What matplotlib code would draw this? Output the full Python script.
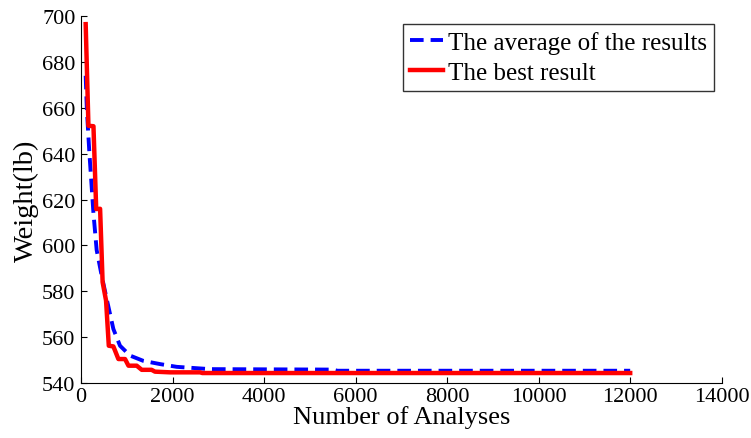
import matplotlib
matplotlib.use("Agg")
import matplotlib.pyplot as plt

plt.rcParams['font.family'] = ['Liberation Serif', 'DejaVu Serif']

avg_x = [100, 125, 180, 270, 340, 450, 560, 705, 850, 1070, 1360, 1725, 2090, 2820, 5500, 5600, 12000]
avg_y = [674, 659.5, 640.6, 614, 598, 586.8, 576.6, 563.6, 556.3, 552, 549.7, 548.3, 547.1, 546.1, 545.9, 545.4, 545.4]

best_x = [100, 160, 270, 330, 415, 470, 545, 605, 705, 815, 960, 1035, 1215, 1325, 1540, 1615, 1945, 2600, 2650, 12000]
best_y = [696.5, 652.2, 652, 615.9, 616, 584, 576, 556.3, 556, 550.5, 550.5, 547.6, 547.6, 545.8, 545.8, 545, 544.7, 544.7, 544.4, 544.4]

x_ticks = [0, 2000, 4000, 6000, 8000, 10000, 12000, 14000]
y_ticks = [540, 560, 580, 600, 620, 640, 660, 680, 700]

fig = plt.figure(figsize=(7.51, 4.39), dpi=100)
ax = fig.add_axes([0.108, 0.125, 0.853, 0.836])

ax.plot(avg_x, avg_y, color='#0000ff', linestyle=(0, (3.5, 1.8)), linewidth=2.8,
        label='The average of the results')
ax.plot(best_x, best_y, color='#ff0000', linewidth=3.2, label='The best result')

ax.set_xlim(0, 14000)
ax.set_ylim(540, 700)
ax.set_xticks(x_ticks)
ax.set_yticks(y_ticks)
ax.tick_params(direction='in', labelsize=16, length=4, width=0.8)
ax.tick_params(axis='x', pad=3)
ax.tick_params(axis='y', pad=4)
ax.spines['top'].set_visible(False)
ax.spines['right'].set_visible(False)

ax.set_xlabel('Number of Analyses', fontsize=19, labelpad=-1)
ax.set_ylabel('Weight(lb)', fontsize=20.5, labelpad=2)

leg = ax.legend(loc='upper right', fontsize=18, frameon=True, fancybox=False,
                edgecolor='black', handlelength=1.3, handletextpad=0.2,
                borderpad=0.3, labelspacing=0.28, borderaxespad=0.3)
leg.get_frame().set_linewidth(1.0)

fig.savefig('out.png', dpi=100)
